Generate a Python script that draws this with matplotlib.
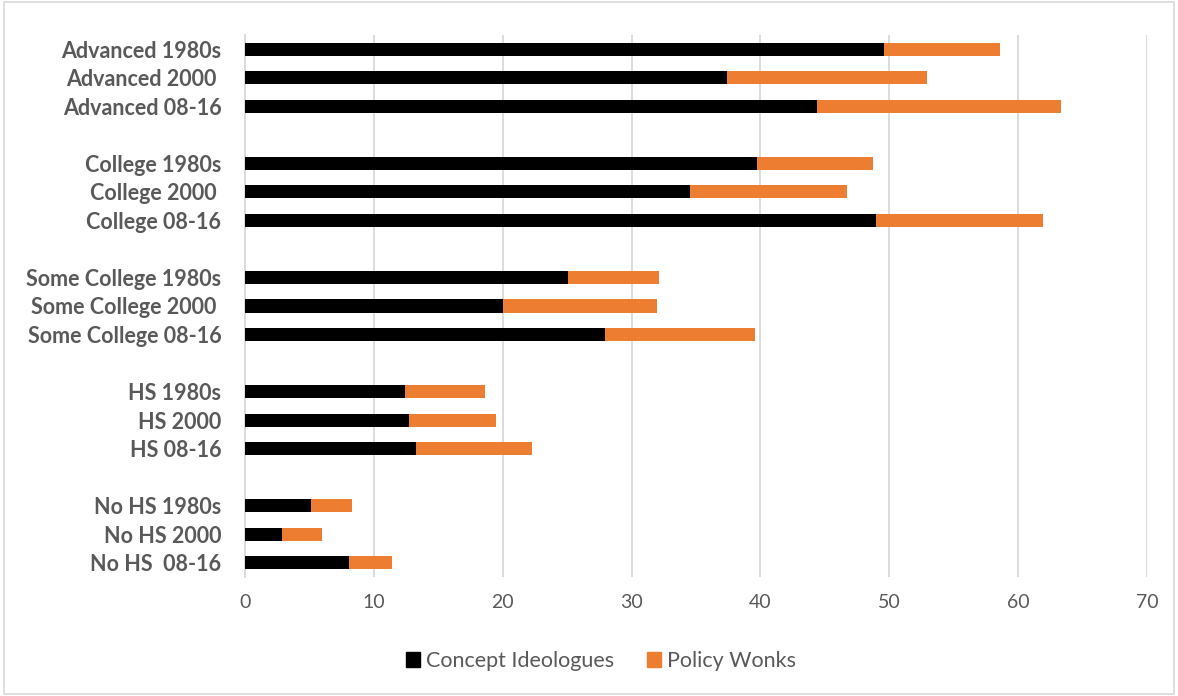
import matplotlib
matplotlib.use("Agg")
import matplotlib.pyplot as plt
from matplotlib.patches import Rectangle

plt.rcParams["font.family"] = ["Lato", "DejaVu Sans"]

# Rows from top to bottom; empty strings are spacer rows between groups
labels = [
    "Advanced 1980s", "Advanced 2000 ", "Advanced 08-16", "",
    "College 1980s", "College 2000 ", "College 08-16", "",
    "Some College 1980s", "Some College 2000 ", "Some College 08-16", "",
    "HS 1980s", "HS 2000", "HS 08-16", "",
    "No HS 1980s", "No HS 2000", "No HS  08-16",
]
ideologues = [49.6, 37.4, 44.4, None,
              39.7, 34.5, 49.0, None,
              25.1, 20.0, 27.9, None,
              12.4, 12.7, 13.3, None,
              5.1, 2.9, 8.1]
wonks = [9.0, 15.5, 18.9, None,
         9.0, 12.2, 12.9, None,
         7.0, 12.0, 11.7, None,
         6.2, 6.8, 9.0, None,
         3.2, 3.1, 3.3]

BLACK = "#000000"
ORANGE = "#ED7D31"
GREY_TXT = "#595959"
GRID = "#D9D9D9"

fig = plt.figure(figsize=(11.78, 6.96), dpi=100)
ax = fig.add_axes([245 / 1178, 1 - 577 / 696, (1147 - 245) / 1178, (577 - 35) / 696])

ys = list(range(len(labels)))
for y, a, b in zip(ys, ideologues, wonks):
    if a is None:
        continue
    ax.barh(y, a, height=0.46, color=BLACK, zorder=3)
    ax.barh(y, b, left=a, height=0.46, color=ORANGE, zorder=3)

ax.set_ylim(len(labels) - 0.5, -0.5)
ax.set_xlim(0, 70)
ax.set_xticks(range(0, 71, 10))
ax.set_yticks(ys)
ax.set_yticklabels(labels, fontsize=15.5, fontweight="bold", color=GREY_TXT)
ax.tick_params(axis="y", length=0, pad=17)
ax.tick_params(axis="x", length=0, pad=12, labelsize=14, labelcolor=GREY_TXT)
ax.grid(axis="x", color=GRID, linewidth=1.3, zorder=0)
for side in ["top", "right", "bottom"]:
    ax.spines[side].set_visible(False)
ax.spines["left"].set_color(GRID)
ax.spines["left"].set_linewidth(1.3)

# legend
handles = [Rectangle((0, 0), 1, 1, color=BLACK), Rectangle((0, 0), 1, 1, color=ORANGE)]
fig.legend(handles, ["Concept Ideologues", "Policy Wonks"], loc="center",
           bbox_to_anchor=(601 / 1178, 1 - 661 / 696), ncol=2, frameon=False,
           fontsize=15.5, handlelength=0.65, handleheight=0.65, handletextpad=0.3,
           columnspacing=1.5, labelcolor=GREY_TXT)

# outer chart border
fig.patches.append(Rectangle((0.003, 0.003), 0.994, 0.994, transform=fig.transFigure,
                             fill=False, edgecolor=GRID, linewidth=1.2))

fig.savefig("out.png", dpi=100)
